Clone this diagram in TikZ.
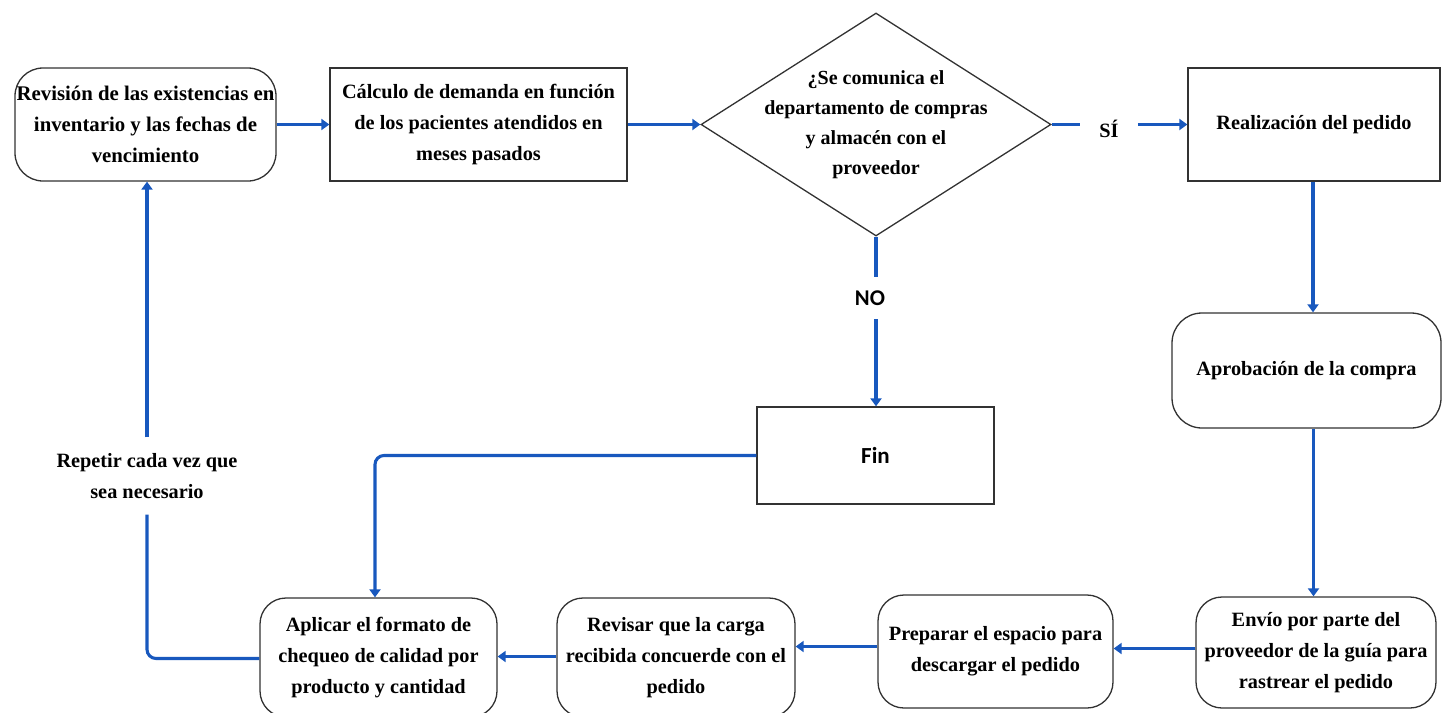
\documentclass[tikz,border=0pt]{standalone}
\usepackage{fontspec}
\usetikzlibrary{arrows.meta,shapes.geometric}
\setmainfont{Liberation Serif}
\newfontfamily\calfont{Carlito}
\definecolor{flowblue}{RGB}{24,88,190}
\definecolor{edge}{RGB}{50,50,50}
\begin{document}
\begin{tikzpicture}[x=1pt,y=-1pt,
  txt/.style={font=\rmfamily\bfseries\fontsize{20.3}{31}\selectfont,align=center,text=black},
  procbox/.style={txt,draw=edge,line width=1.3pt,fill=white,inner sep=0pt},
  roundbox/.style={procbox,rounded corners=28pt},
  flow/.style={draw=flowblue,line width=3.1pt},
  arr/.style={flow,-{Triangle[width=11pt,length=8pt]}},
  lbl/.style={txt,inner sep=0pt}]
\useasboundingbox (0,0) rectangle (1442,712);

% top row
\node[roundbox,minimum width=261pt,minimum height=113pt,
  font=\rmfamily\bfseries\fontsize{20.8}{31}\selectfont] (rev) at (145.5,124.5)
  {Revisión de las existencias en\\inventario y las fechas de\\vencimiento};
\node[procbox,minimum width=297pt,minimum height=113pt] (calc) at (478.5,124.5)
  {Cálculo de demanda en función\\de los pacientes atendidos en\\meses pasados};
\node[draw=edge,line width=1.3pt,diamond,minimum width=350pt,minimum height=223pt,inner sep=0pt] (dec) at (876,124.5) {};
\node[txt,font=\rmfamily\bfseries\fontsize{20}{30}\selectfont] (dectext) at (dec.center) {¿Se comunica el\\departamento de compras\\y almacén con el\\proveedor};
\node[procbox,minimum width=252pt,minimum height=113pt] (ped) at (1314,124.5)
  {Realización del pedido};

% right column
\node[roundbox,rounded corners=30pt,minimum width=269pt,minimum height=115pt] (apr) at (1306.5,370.5)
  {Aprobación de la compra};

% bottom row
\node[roundbox,rounded corners=26pt,minimum width=240pt,minimum height=111pt] (env) at (1316,652.5)
  {Envío por parte del\\proveedor de la guía para\\rastrear el pedido};
\node[roundbox,rounded corners=26pt,minimum width=235pt,minimum height=113pt] (prep) at (995.5,651.5)
  {Preparar el espacio para\\descargar el pedido};
\node[roundbox,rounded corners=26pt,minimum width=238pt,minimum height=119pt] (revi) at (676,657.5)
  {Revisar que la carga\\recibida concuerde con el\\pedido};
\node[roundbox,rounded corners=26pt,minimum width=237pt,minimum height=119pt] (apl) at (378.5,657.5)
  {Aplicar el formato de\\chequeo de calidad por\\producto y cantidad};

% end box
\node[draw=edge,line width=1.3pt,minimum width=237pt,minimum height=97pt,inner sep=0pt,
  font=\calfont\bfseries\fontsize{23}{28}\selectfont] (fin) at (875.5,455.5) {Fin};

% branch labels
\node[lbl,inner xsep=19pt] (si) at (1109,129) {SÍ};
\node[font=\calfont\bfseries\fontsize{22.5}{26}\selectfont,inner sep=0pt,minimum height=42pt] (no) at (870,298) {NO};
\node[lbl,minimum height=77pt] (rep) at (147,476) {Repetir cada vez que\\sea necesario};

% connectors
\draw[arr] (rev.east) -- (calc.west);
\draw[arr] (calc.east) -- (dec.west);
\draw[flow] (dec.east) -- (dec.east -| si.west);
\draw[arr] (dec.east -| si.east) -- (ped.west);
\draw[arr] ([xshift=-1pt]ped.south) -- ([xshift=-1pt]ped.south |- apr.north);
\draw[arr] ([xshift=7pt]apr.south) -- ([xshift=7pt]apr.south |- env.north);
\draw[arr] ([yshift=4pt]env.west) -- ([yshift=4pt]env.west -| prep.east);
\draw[arr] ([yshift=5pt]prep.west) -- ([yshift=5pt]prep.west -| revi.east);
\draw[arr] ([yshift=1pt]revi.west) -- ([yshift=1pt]revi.west -| apl.east);
\draw[flow] (dec.south) -- ([xshift=6pt]no.north);
\draw[arr] ([xshift=6pt]no.south) -- ([xshift=6pt]no.south |- fin.north);
\draw[arr,rounded corners=9pt] (fin.west) -| ([xshift=-3.5pt]apl.north);
\draw[flow,rounded corners=9pt] ([yshift=-1pt]apl.west) -| (rep.south);
\draw[arr] (rep.north) -- (rep.north |- rev.south);
\end{tikzpicture}
\end{document}
